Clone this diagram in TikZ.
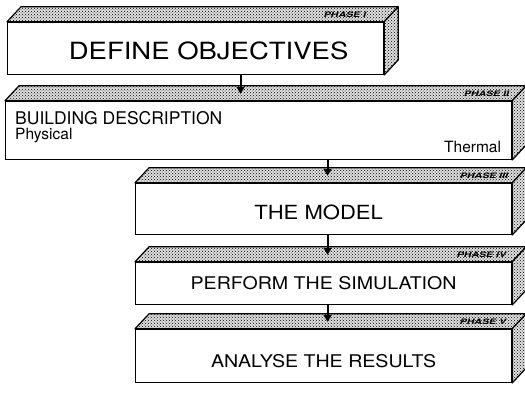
\documentclass[tikz,border=0pt]{standalone}
\usepackage{fontspec}
\setmainfont{TeX Gyre Heros}
\usepackage{graphicx}
\usetikzlibrary{arrows.meta,positioning,calc,patterns}

\begin{document}
\begin{tikzpicture}[
  x=1pt, y=1pt,
  face/.style={draw, line width=1.2pt, fill=white, inner sep=0pt, anchor=south west},
  slab/.style={draw, line width=1.2pt, preaction={fill=gray!25}, pattern=crosshatch dots, line join=round},
  phase/.style={font=\fontsize{7.5}{8}\selectfont\bfseries\itshape, anchor=east, inner sep=0pt},
  big/.style={font=\fontsize{17.5}{20}\selectfont},
  small/.style={font=\fontsize{15.5}{17}\selectfont, inner sep=0pt},
  arr/.style={-{Triangle[length=7pt,width=8pt]}, line width=1.8pt, shorten >=7pt},
]
\useasboundingbox (0,0) rectangle (525,394);
% front faces
\node[face, minimum width=376, minimum height=52] (p1) at (7,319) {};
\node[face, minimum width=506, minimum height=58] (p2) at (5,234) {};
\node[face, minimum width=376, minimum height=51] (p3) at (135,159) {};
\node[face, minimum width=376, minimum height=42] (p4) at (135,89) {};
\node[face, minimum width=376, minimum height=53] (p5) at (135,11) {};
% top and side faces
\foreach \b in {p1,p2,p3,p4,p5} {
  \draw[slab] (\b.north west) -- ++(14,15) -- ($(\b.north east)+(14,15)$) -- (\b.north east) -- cycle;
  \draw[slab] (\b.north east) -- ++(14,15) -- ($(\b.south east)+(14,15)$) -- (\b.south east) -- cycle;
}
% phase labels
\node[phase] at ([xshift=-18,yshift=7.5]p1.north east) {\scalebox{1.4}[1]{PHASE I}};
\node[phase] at ([xshift=-3,yshift=7.5]p2.north east) {\scalebox{1.4}[1]{PHASE II}};
\node[phase] at ([xshift=-4,yshift=7.5]p3.north east) {\scalebox{1.4}[1]{PHASE III}};
\node[phase] at ([xshift=-6,yshift=7.5]p4.north east) {\scalebox{1.4}[1]{PHASE IV}};
\node[phase] at ([xshift=-6,yshift=7.5]p5.north east) {\scalebox{1.4}[1]{PHASE V}};
% texts
\node[font=\fontsize{23.7}{26}\selectfont] (t1) at ([xshift=13,yshift=-2]p1.center) {\scalebox{1.16}[1]{DEFINE OBJECTIVES}};
\node[big, anchor=north west, inner sep=0pt] (t2) at ([xshift=10,yshift=-10]p2.north west) {BUILDING DESCRIPTION};
\node[small, anchor=base west] (phys) at ([xshift=10,yshift=-39]p2.north west) {Physical};
\node[small, anchor=base east] (therm) at ([xshift=-11,yshift=7]p2.south east) {Thermal};
\node[font=\fontsize{19.5}{22}\selectfont] (t3) at ([xshift=-5,yshift=-3]p3.center) {\scalebox{1.13}[1]{THE MODEL}};
\node[big] (t4) at (p4.center) {\scalebox{1.12}[1]{PERFORM THE SIMULATION}};
\node[big] (t5) at ([yshift=-5]p5.center) {\scalebox{1.12}[1]{ANALYSE THE RESULTS}};
% connectors
\draw[arr] ([xshift=45]p1.south) -- ([xshift=45]p1.south |- p2.north);
\draw[arr] ([xshift=4]p3.north |- p2.south) -- ([xshift=4]p3.north);
\draw[arr] ([xshift=4]p3.south) -- ([xshift=4]p4.north);
\draw[arr] ([xshift=4]p4.south) -- ([xshift=4]p5.north);
\end{tikzpicture}
\end{document}
